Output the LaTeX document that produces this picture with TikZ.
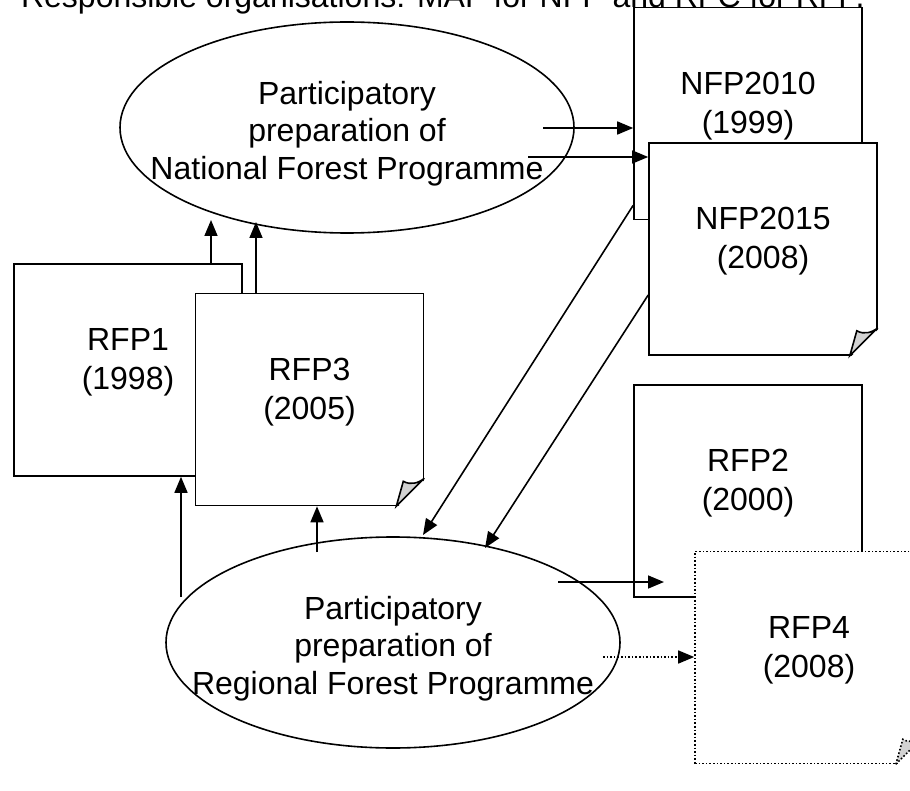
\documentclass[tikz,border=0pt]{standalone}
\usepackage{fontspec}
\setmainfont{Liberation Sans}
\usetikzlibrary{shapes.geometric,arrows.meta}

\tikzset{
	doc/.style={draw, fill=white, line width=0.8pt, minimum width=114pt, minimum height=106pt, inner sep=0pt, align=center, text depth=11pt, font=\fontsize{16pt}{19.5pt}\selectfont},
	prep/.style={draw, ellipse, line width=0.8pt, minimum width=227pt, minimum height=105.5pt, inner sep=0pt},
	preptext/.style={align=center, yshift=-3pt, font=\fontsize{16pt}{18.8pt}\selectfont},
	arr/.style={line width=0.8pt, -{Triangle[length=8pt,width=6.5pt]}},
}

% folded corner at the south east of a document node
\newcommand{\foldcorner}[2][]{%
	\fill[white] ([shift={(-14pt,-1pt)}]#2.south east) -- ([shift={(1pt,-1pt)}]#2.south east) -- ([shift={(1pt,14pt)}]#2.south east) -- cycle;
	\draw[line width=0.8pt, fill=gray!35, #1] ([xshift=-14pt]#2.south east) -- ([shift={(-10.5pt,12.5pt)}]#2.south east) .. controls ([shift={(-7pt,10.5pt)}]#2.south east) and ([shift={(-3pt,11.5pt)}]#2.south east) .. ([yshift=14pt]#2.south east) -- cycle;
}

\begin{document}
\begin{tikzpicture}[x=0.5pt, y=-0.5pt, font=\fontsize{16pt}{18.4pt}\selectfont]
	\useasboundingbox (0,0) rectangle (910,791);
	
	\node[anchor=base west] (title) at (14,8) {Responsible organisations: MAF for NFP and RFC for RFP.};
	
	%documents
	\node[doc] (nfp2010) at (748,113.5) {NFP2010\\(1999)};
	\node[doc] (nfp2015) at (763,249) {NFP2015\\(2008)};
	\foldcorner{nfp2015}
	\node[doc] (rfp1) at (128,370) {RFP1\\(1998)};
	\node[doc] (rfp3) at (309.5,399.5) {RFP3\\(2005)};
	\foldcorner{rfp3}
	\node[doc] (rfp2) at (748,491) {RFP2\\(2000)};
	\node[doc, densely dotted] (rfp4) at (809,657.5) {RFP4\\(2008)};
	\foldcorner[densely dotted]{rfp4}
	
	%preparation processes
	\node[prep] (natprep) at (347,127.5) {};
	\node[preptext] (nattext) at (natprep.center) {Participatory\\preparation of\\National Forest Programme};
	\node[prep] (regprep) at (393,642.5) {};
	\node[preptext] (regtext) at (regprep.center) {Participatory\\preparation of\\Regional Forest Programme};
	
	\coordinate (n1) at (211,220);
	\coordinate (n2) at (256,222);
	\coordinate (n3) at (543,128);
	\coordinate (n4) at (528,157);
	\coordinate (r1) at (423,535);
	\coordinate (r2) at (485,548);
	\coordinate (r3) at (181,597);
	\coordinate (r4) at (317,552);
	\coordinate (r5) at (558,582);
	\coordinate (r6) at (664,582);
	\coordinate (r7) at (603,657);
	
	\draw[arr] (rfp1.north -| n1) -- (n1);
	\draw[arr] (rfp3.north -| n2) -- (n2);
	\draw[arr] (n3) -- (n3 -| nfp2010.west);
	\draw[arr] (n4) -- (n4 -| nfp2015.west);
	\draw[arr] ([yshift=7.5pt]nfp2010.south west) -- (r1);
	\draw[arr] ([yshift=-23pt]nfp2015.west) -- (r2);
	\draw[arr] (r3) -- (r3 |- rfp1.south);
	\draw[arr] (r4) -- (r4 |- rfp3.south);
	\draw[arr] (r5) -- (r6);
	\draw[arr, densely dotted] (r7) -- (r7 -| rfp4.west);
\end{tikzpicture}
\end{document}
